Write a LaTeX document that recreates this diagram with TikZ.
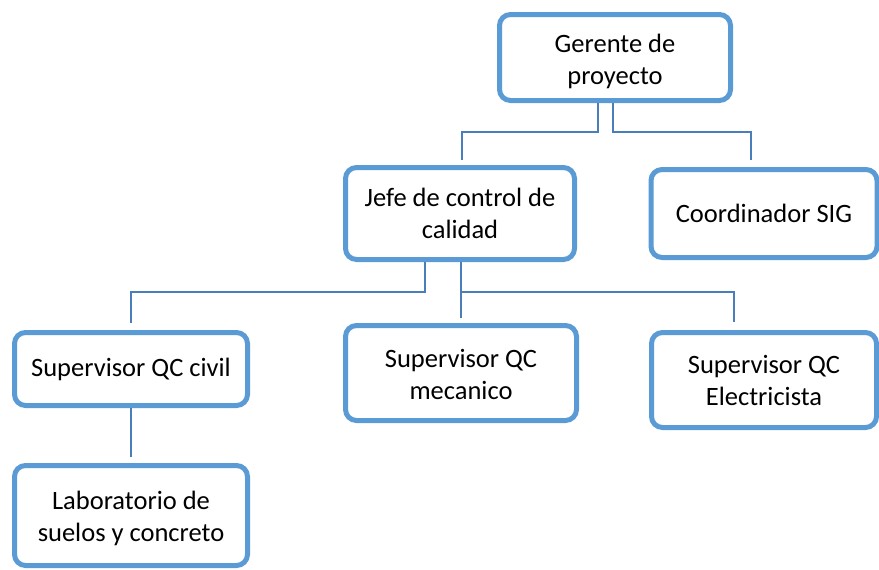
\documentclass[tikz,border=0pt]{standalone}
\usepackage{fontspec}
\setmainfont{Carlito}
\definecolor{boxblue}{HTML}{5B9BD5}
\definecolor{lineblue}{HTML}{4A7EBB}
\begin{document}
\begin{tikzpicture}[x=1pt,y=-1pt,
  orgbox/.style={draw=boxblue, line width=5pt, rounded corners=11pt, fill=white,
    align=center, font=\fontsize{26.5}{32}\selectfont, inner sep=0pt},
  conn/.style={draw=lineblue, line width=2pt}]
\useasboundingbox (0,0) rectangle (879,570);
\node[orgbox, minimum width=231pt, minimum height=86pt] (g) at (615,57.5) {\rule{0pt}{27pt}Gerente de\\proyecto};
\node[orgbox, minimum width=229pt, minimum height=92pt] (j) at (460,213.5) {Jefe de control de\\calidad};
\node[orgbox, minimum width=226pt, minimum height=88pt] (c) at (764,213.5) {Coordinador SIG};
\node[orgbox, minimum width=233pt, minimum height=73pt] (s1) at (131,369) {Supervisor QC civil};
\node[orgbox, minimum width=231pt, minimum height=95pt] (s2) at (461,373) {\rule{0pt}{21pt}Supervisor QC\\mecanico};
\node[orgbox, minimum width=225pt, minimum height=95pt] (s3) at (764,380) {Supervisor QC\\Electricista};
\node[orgbox, minimum width=233pt, minimum height=100pt] (lab) at (131,515.5) {\rule{0pt}{24.5pt}Laboratorio de\\suelos y concreto};
% connectors
\draw[conn] ([xshift=-17pt]g.south) -- ++(0,-29pt) -| ([xshift=2pt,yshift=5pt]j.north);
\draw[conn] ([xshift=-2pt]g.south) -- ++(0,-29pt) -| ([xshift=-13pt,yshift=7pt]c.north);
\draw[conn] ([xshift=-35pt]j.south) -- ++(0,-30pt) -| ([yshift=7pt]s1.north);
\draw[conn] ([xshift=1pt]j.south) -- ([yshift=5pt]s2.north);
\draw[conn] ([xshift=1pt]j.south) ++(0,-30pt) -| ([xshift=-30pt,yshift=8pt]s3.north);
\draw[conn] (s1.south) -- ([yshift=6pt]lab.north);
\end{tikzpicture}
\end{document}
